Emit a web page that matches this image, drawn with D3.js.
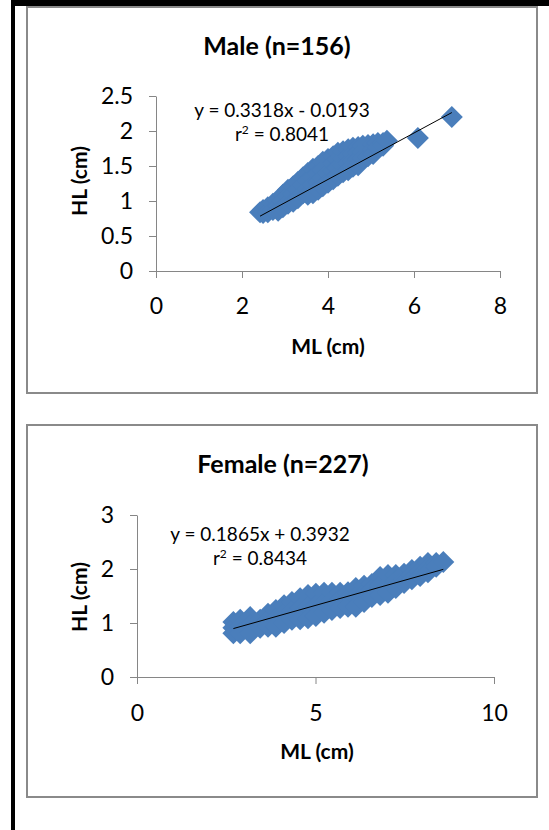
<!DOCTYPE html>
<html>
<head>
<meta charset="utf-8">
<script src="https://cdn.jsdelivr.net/npm/d3@7"></script>
<style>
  html, body { margin: 0; padding: 0; background: #fff; }
  svg { display: block; font-family: Lato, "Open Sans", sans-serif; }
</style>
</head>
<body>
<svg id="chart" width="549" height="830"></svg>
<script>
// Male (n=156): mantle length vs head length
const maleML = [
  2.42,
  2.49, 2.49,
  2.60, 2.60,
  2.72, 2.72,
  2.84, 2.84, 2.84,
  2.95, 2.95, 2.95,
  3.07, 3.07, 3.07,
  3.19, 3.19, 3.19,
  3.30, 3.30, 3.30,
  3.42, 3.42, 3.42,
  3.53, 3.53, 3.53, 3.53,
  3.65, 3.65, 3.65, 3.65,
  3.77, 3.77, 3.77, 3.77,
  3.88, 3.88, 3.88, 3.88,
  4.00, 4.00, 4.00, 4.00,
  4.12, 4.12, 4.12, 4.12,
  4.23, 4.23, 4.23, 4.23,
  4.35, 4.35, 4.35, 4.35,
  4.47, 4.47, 4.47, 4.47,
  4.58, 4.58, 4.58, 4.58,
  4.70, 4.70, 4.70, 4.70,
  4.81, 4.81, 4.81,
  4.93, 4.93, 4.93,
  5.05, 5.05, 5.05,
  5.16, 5.16,
  5.28, 5.28,
  5.37,
  6.09,
  6.88
];
const maleHL = [
  0.84,
  0.87, 0.83,
  0.91, 0.84,
  0.96, 0.87,
  1.01, 0.93, 0.86,
  1.09, 1.00, 0.91,
  1.16, 1.06, 0.96,
  1.21, 1.10, 0.99,
  1.27, 1.16, 1.04,
  1.34, 1.23, 1.11,
  1.40, 1.29, 1.17, 1.09,
  1.46, 1.34, 1.23, 1.11,
  1.50, 1.39, 1.27, 1.16,
  1.56, 1.44, 1.33, 1.21,
  1.60, 1.50, 1.39, 1.26,
  1.64, 1.54, 1.43, 1.31,
  1.69, 1.59, 1.47, 1.36,
  1.71, 1.61, 1.51, 1.41,
  1.74, 1.64, 1.54, 1.44,
  1.76, 1.67, 1.57, 1.49,
  1.77, 1.69, 1.59, 1.51,
  1.79, 1.70, 1.61,
  1.80, 1.73, 1.64,
  1.81, 1.74, 1.67,
  1.83, 1.76,
  1.83, 1.79,
  1.86,
  1.90,
  2.20
];
const maleFit = [0.3318, -0.0193, 0.8041];   // slope, intercept, r²
const maleXTicks = [0, 2, 4, 6, 8];
const maleYTicks = [0, 0.5, 1, 1.5, 2, 2.5];

// Female (n=227)
const femaleML = [
  2.70, 2.70, 2.70,
  2.89, 2.89, 2.89,
  3.17, 3.17, 3.17,
  3.45, 3.45,
  3.67, 3.67, 3.67,
  3.89, 3.89, 3.89,
  4.12, 4.12, 4.12,
  4.34, 4.34, 4.34,
  4.57, 4.57, 4.57,
  4.79, 4.79, 4.79,
  5.01, 5.01, 5.01,
  5.24, 5.24, 5.24,
  5.46, 5.46, 5.46,
  5.69, 5.69, 5.69,
  5.91, 5.91, 5.91,
  6.13, 6.13, 6.13,
  6.36, 6.36, 6.36,
  6.58, 6.58, 6.58,
  6.81, 6.81, 6.81,
  7.03, 7.03, 7.03,
  7.25, 7.25, 7.25,
  7.48, 7.48, 7.48,
  7.70, 7.70, 7.70,
  7.93, 7.93, 7.93,
  8.15, 8.15, 8.15,
  8.38, 8.38,
  8.58
];
const femaleHL = [
  1.02, 0.91, 0.81,
  1.06, 0.93, 0.81,
  1.11, 0.96, 0.81,
  1.06, 0.91,
  1.17, 1.04, 0.93,
  1.24, 1.09, 0.93,
  1.33, 1.17, 1.00,
  1.39, 1.22, 1.06,
  1.46, 1.28, 1.07,
  1.52, 1.31, 1.09,
  1.54, 1.33, 1.13,
  1.56, 1.37, 1.19,
  1.56, 1.41, 1.24,
  1.56, 1.43, 1.28,
  1.57, 1.43, 1.30,
  1.65, 1.48, 1.30,
  1.69, 1.54, 1.39,
  1.72, 1.61, 1.48,
  1.85, 1.69, 1.52,
  1.89, 1.72, 1.56,
  1.89, 1.78, 1.65,
  1.91, 1.81, 1.74,
  1.98, 1.89, 1.81,
  2.04, 1.96, 1.87,
  2.11, 2.02, 1.94,
  2.11, 2.04,
  2.13
];
const femaleFit = [0.1865, 0.3932, 0.8434];
const femaleXTicks = [0, 5, 10];
const femaleYTicks = [0, 1, 2, 3];

const blue = "#4A7EBB";
const axisGrey = "#868686";

const svg = d3.select("#chart");

// page cell borders (thick black, left + top)
svg.append("rect").attr("x", 11).attr("y", 0).attr("width", 4).attr("height", 830).attr("fill", "#000");
svg.append("rect").attr("x", 11).attr("y", 0).attr("width", 538).attr("height", 6).attr("fill", "#000");

const panels = [
  { ml: maleML, hl: maleHL, fit: maleFit, xTicks: maleXTicks, yTicks: maleYTicks,
    title: "Male (n=156)", box: [27, 7, 510, 386],
    x0: 156, x1: 500, y0: 271, y1: 96,
    titleX: 277, titleY: 55, eqX: 282, eqY: 117,
    yLabX: 78, yLabY: 181, xLabX: 328, xLabY: 354, xTickDy: 43 },
  { ml: femaleML, hl: femaleHL, fit: femaleFit, xTicks: femaleXTicks, yTicks: femaleYTicks,
    title: "Female (n=227)", box: [27, 425, 510, 372],
    x0: 137, x1: 494, y0: 677, y1: 515,
    titleX: 283, titleY: 473, eqX: 260, eqY: 541,
    yLabX: 78, yLabY: 597, xLabX: 317, xLabY: 759, xTickDy: 44 }
];

panels.forEach(p => {
  const g = svg.append("g");

  g.append("rect")
    .attr("x", p.box[0]).attr("y", p.box[1])
    .attr("width", p.box[2]).attr("height", p.box[3])
    .attr("fill", "#fff")
    .attr("stroke", "#8a8a8a")
    .attr("stroke-width", 2);

  const x = d3.scaleLinear().domain([0, d3.max(p.xTicks)]).range([p.x0, p.x1]);
  const y = d3.scaleLinear().domain([0, d3.max(p.yTicks)]).range([p.y0, p.y1]);

  // axes
  const xAxisG = g.append("g")
    .attr("transform", `translate(0,${p.y0})`)
    .call(d3.axisBottom(x).tickValues(p.xTicks).tickSize(7).tickSizeOuter(0).tickFormat(d => d));
  xAxisG.selectAll("text").attr("dy", null).attr("y", p.xTickDy);

  const yAxisG = g.append("g")
    .attr("transform", `translate(${p.x0},0)`)
    .call(d3.axisLeft(y).tickValues(p.yTicks).tickSize(7).tickSizeOuter(0).tickPadding(16).tickFormat(d => d));

  [xAxisG, yAxisG].forEach(a => {
    a.select(".domain").attr("stroke", axisGrey);
    a.selectAll(".tick line").attr("stroke", axisGrey);
    a.selectAll("text").attr("fill", "#000").style("font-size", "23px").style("font-family", "Lato, sans-serif");
  });

  // markers
  const diamond = d3.symbol().type(d3.symbolSquare).size(242);
  g.append("g").selectAll("path")
    .data(d3.range(p.ml.length))
    .join("path")
    .attr("d", diamond)
    .attr("transform", i => `translate(${x(p.ml[i])},${y(p.hl[i])}) rotate(45)`)
    .attr("fill", blue);

  // linear trendline over the data range
  const [slope, icpt, r2] = p.fit;
  const xs = d3.extent(p.ml);
  g.append("line")
    .attr("x1", x(xs[0])).attr("y1", y(slope * xs[0] + icpt))
    .attr("x2", x(xs[1])).attr("y2", y(slope * xs[1] + icpt))
    .attr("stroke", "#000").attr("stroke-width", 1);

  // equation label
  const eqText = `y = ${slope}x ${icpt < 0 ? "-" : "+"} ${Math.abs(icpt).toFixed(4)}`;
  g.append("text")
    .attr("x", p.eqX).attr("y", p.eqY)
    .attr("text-anchor", "middle")
    .style("font-size", "19px")
    .text(eqText);
  const r2t = g.append("text")
    .attr("x", p.eqX).attr("y", p.eqY + 24)
    .attr("text-anchor", "middle")
    .style("font-size", "19px");
  r2t.append("tspan").text("r");
  r2t.append("tspan").attr("dy", -7).style("font-size", "12px").text("2");
  r2t.append("tspan").attr("dy", 7).text(` = ${r2}`);

  // titles
  g.append("text")
    .attr("x", p.titleX).attr("y", p.titleY)
    .attr("text-anchor", "middle")
    .style("font-size", "25px").style("font-weight", "bold")
    .text(p.title);

  g.append("text")
    .attr("x", p.xLabX).attr("y", p.xLabY)
    .attr("text-anchor", "middle")
    .style("font-size", "21px").style("font-weight", "bold")
    .text("ML (cm)");

  g.append("text")
    .attr("transform", `translate(${p.yLabX},${p.yLabY}) rotate(-90)`)
    .attr("text-anchor", "middle")
    .attr("dominant-baseline", "central")
    .style("font-size", "21px").style("font-weight", "bold")
    .text("HL (cm)");
});
</script>
</body>
</html>
